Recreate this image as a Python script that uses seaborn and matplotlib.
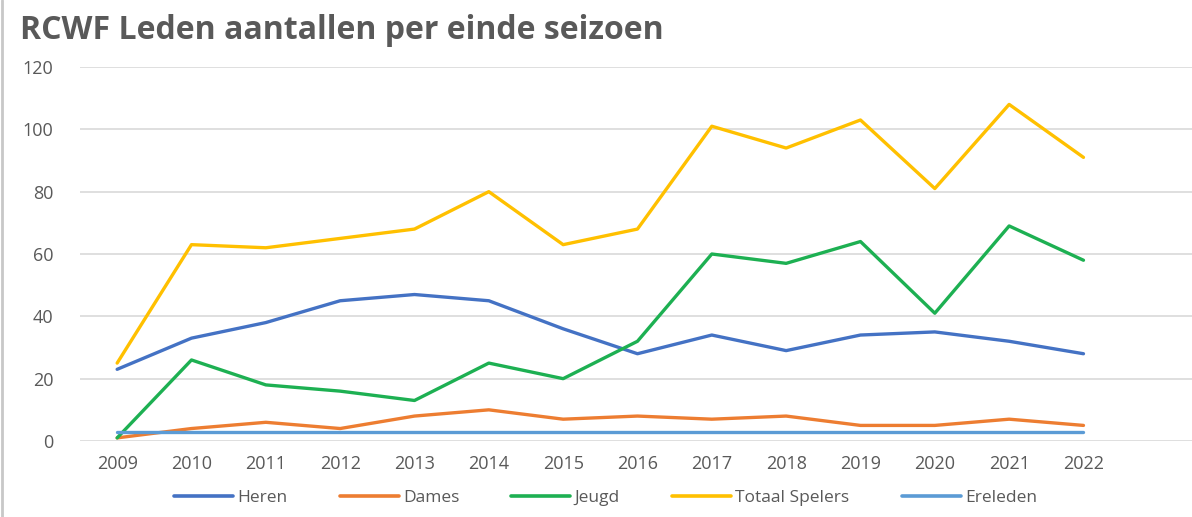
import matplotlib
matplotlib.use("Agg")
import matplotlib.pyplot as plt
import seaborn as sns
import pandas as pd
from matplotlib.lines import Line2D

years = [str(y) for y in range(2009, 2023)]
heren = [23, 33, 38, 45, 47, 45, 36, 28, 34, 29, 34, 35, 32, 28]
dames = [1, 4, 6, 4, 8, 10, 7, 8, 7, 8, 5, 5, 7, 5]
jeugd = [1, 26, 18, 16, 13, 25, 20, 32, 60, 57, 64, 41, 69, 58]
totaal = [25, 63, 62, 65, 68, 80, 63, 68, 101, 94, 103, 81, 108, 91]
ereleden = [3] * 14

series = {"Heren": heren, "Dames": dames, "Jeugd": jeugd,
          "Totaal Spelers": totaal, "Ereleden": ereleden}
colors = ["#4472C4", "#ED7D31", "#1DB052", "#FFC000", "#5B9BD5"]

rows = []
for name, vals in series.items():
    for i, v in enumerate(vals):
        rows.append({"idx": i, "jaar": years[i], "serie": name, "waarde": v})
df = pd.DataFrame(rows)

sns.set_theme(style="white")
plt.rcParams['font.family'] = ['Open Sans', 'DejaVu Sans']

fig = plt.figure(figsize=(11.92, 5.17), dpi=100)
ax = fig.add_axes([0.0671, 0.147, 0.9329, 0.7234])

sns.lineplot(data=df, x="idx", y="waarde", hue="serie", palette=colors,
             linewidth=2.4, ax=ax, legend=False, sort=False)

ax.set_xlim(-0.5, 14.46)
ax.set_ylim(0, 120)
ax.set_yticks(range(0, 121, 20))
ax.set_xticks(range(len(years)))
ax.set_xticklabels(years)
ax.grid(axis="y", color="#D9D9D9", linewidth=1.2)
ax.set_axisbelow(True)
for s in ax.spines.values():
    s.set_visible(False)
ax.set_xlabel("")
ax.set_ylabel("")
ax.tick_params(axis="both", length=0, colors="#595959", labelsize=13)
ax.tick_params(axis="y", pad=19)
ax.tick_params(axis="x", pad=10)

fig.text(0.0168, 0.9246, "RCWF Leden aantallen per einde seizoen",
         fontsize=23, fontweight="bold", color="#595959", ha="left", va="baseline")

handles = [Line2D([0], [0], color=c, linewidth=2.6) for c in colors]
fig.legend(handles, list(series.keys()), loc="center", bbox_to_anchor=(0.508, 0.037),
           ncol=5, frameon=False, fontsize=12.5, handlelength=3.4, columnspacing=3.0,
           handletextpad=0.25, labelcolor="#595959")

fig.add_artist(Line2D([0.002, 0.002], [0, 1], transform=fig.transFigure,
                      color="#C8C8C8", linewidth=2))

fig.savefig("out.png", dpi=100)
